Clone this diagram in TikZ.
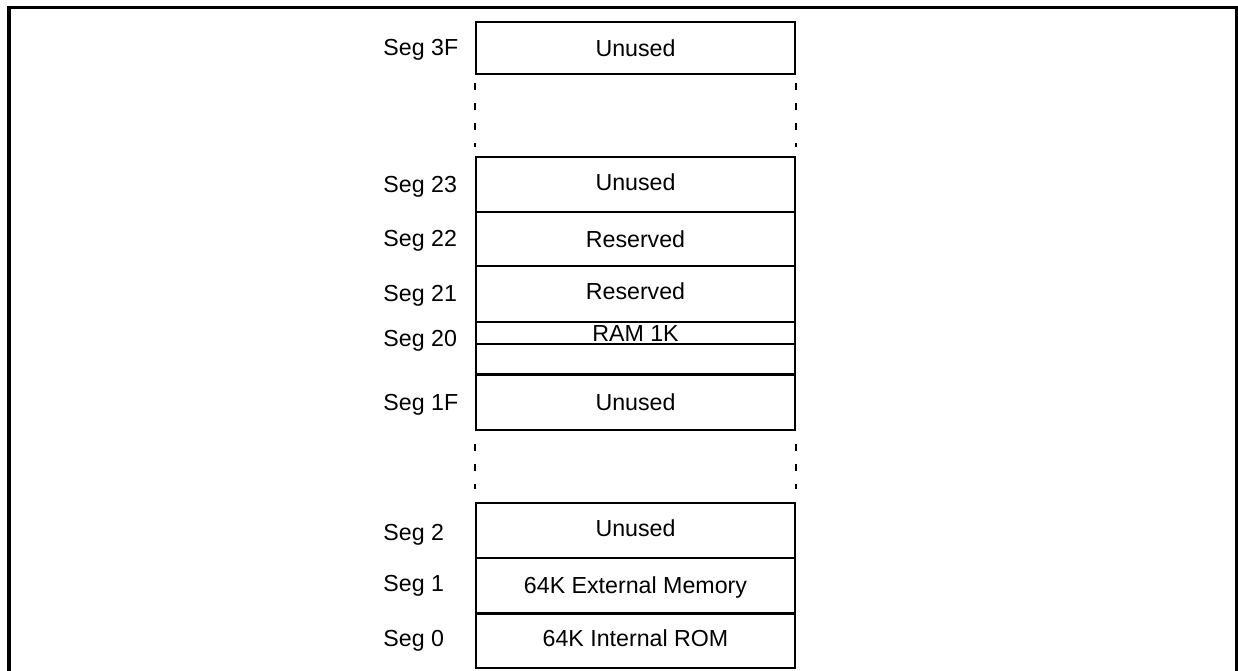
\documentclass[tikz,border=0pt]{standalone}
\usepackage{fontspec}
\setmainfont{Liberation Sans}
\begin{document}
\begin{tikzpicture}[x=0.5pt,y=-0.5pt,
  font=\fontsize{11.6}{14}\selectfont,
  segbox/.style={draw,line width=1pt,minimum width=159.5pt,inner sep=0pt,text height=8.4pt,text depth=0pt},
  raised/.style={text depth=2.5pt},
  seglabel/.style={anchor=west,inner sep=0pt,text height=8.4pt,text depth=0pt},
  gapline/.style={line width=1pt,dash pattern=on 3.5pt off 6.5pt}]
\useasboundingbox (0,0) rectangle (1238,670);
\draw [line width=1.75pt] (9,680) -- (9,7.5) -- (1236.5,7.5) -- (1236.5,680);
% segment boxes
\node [segbox,minimum height=26pt] (s3F) at (635.5,48) {Unused};
\node [segbox,raised,minimum height=27.5pt] (s23) at (635.5,184.5) {Unused};
\node [segbox,minimum height=27pt] (s22) at (635.5,239) {Reserved};
\node [segbox,minimum height=28pt,text depth=3pt] (s21) at (635.5,294) {Reserved};
\node [segbox,line width=1.25pt,minimum height=11pt] (s20a) at (635.5,333) {RAM 1K};
\node [segbox,minimum height=15pt] (s20b) at (635.5,359) {};
\node [segbox,minimum height=27.5pt] (s1F) at (635.5,402.5) {Unused};
\node [segbox,raised,minimum height=27.5pt] (s2) at (635.5,530.5) {Unused};
\node [segbox,minimum height=27.5pt] (s1) at (635.5,585.5) {64K External Memory};
\node [segbox,raised,minimum height=27pt] (s0) at (635.5,640.5) {64K Internal ROM};
% labels
\node [seglabel] (l3F) at (383,47) {Seg 3F};
\node [seglabel] (l23) at (383,184) {Seg 23};
\node [seglabel] (l22) at (383,238) {Seg 22};
\node [seglabel] (l21) at (383,293) {Seg 21};
\node [seglabel] (l20) at (383,338) {Seg 20};
\node [seglabel] (l1F) at (383,402) {Seg 1F};
\node [seglabel] (l2) at (383,532) {Seg 2};
\node [seglabel] (l1) at (383,583) {Seg 1};
\node [seglabel] (l0) at (383,638) {Seg 0};
% gaps
\draw [gapline,shorten <=4pt,shorten >=4.5pt] (s3F.south west) -- (s23.north west);
\draw [gapline,shorten <=4pt,shorten >=4.5pt] (s3F.south east) -- (s23.north east);
\draw [gapline,shorten <=6.5pt,shorten >=6.5pt] (s1F.south west) -- (s2.north west);
\draw [gapline,shorten <=6.5pt,shorten >=6.5pt] (s1F.south east) -- (s2.north east);
\end{tikzpicture}
\end{document}
